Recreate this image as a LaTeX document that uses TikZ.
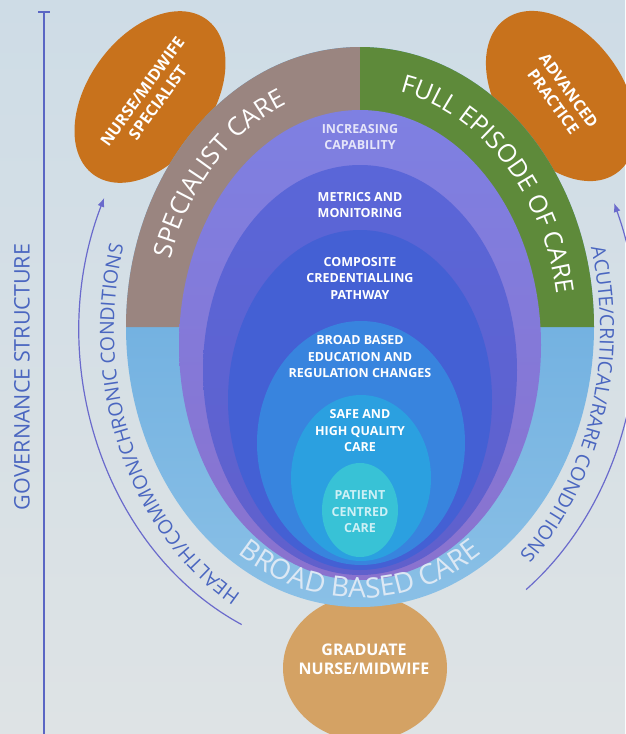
\documentclass[tikz,border=0pt]{standalone}
\usepackage{fontspec}
\setmainfont{Open Sans}
\usetikzlibrary{decorations.text,shapes.geometric,arrows.meta}
\definecolor{bgT}{HTML}{CEDCE6}
\definecolor{bgB}{HTML}{DEE3E5}
\definecolor{govc}{HTML}{5A66C4}
\definecolor{arcc}{HTML}{6A6ACC}
\definecolor{arctext}{HTML}{4A66C0}
\definecolor{outerT}{HTML}{5EA4DC}
\definecolor{outerB}{HTML}{8AC0E6}
\definecolor{brownc}{HTML}{9A8580}
\definecolor{greenc}{HTML}{5E8A3A}
\definecolor{purpleT}{HTML}{7E80E2}
\definecolor{purpleB}{HTML}{8A72CE}
\definecolor{ctwo}{HTML}{5A66D8}
\definecolor{ctwoB}{HTML}{6060CC}
\definecolor{cthree}{HTML}{4460D4}
\definecolor{cfour}{HTML}{3884DE}
\definecolor{cfive}{HTML}{2BA0E0}
\definecolor{csix}{HTML}{38C2D6}
\definecolor{orangec}{HTML}{C8721C}
\definecolor{tanc}{HTML}{D4A264}
\definecolor{bbtext}{HTML}{DCE8F4}
\begin{document}
\begin{tikzpicture}[x=1pt,y=-1pt,
  lab/.style={text=white, font=\bfseries\fontsize{12.5}{16.5}\selectfont, align=center},
  orangelab/.style={text=white, font=\bfseries\fontsize{16}{19}\selectfont, align=center},
  govline/.style={draw=govc, line width=1.6pt},
  arcline/.style={draw=arcc, line width=1.2pt},
  blob/.style={ellipse, inner sep=0pt}
]
\useasboundingbox (0,0) rectangle (625,734);
\path[top color=bgT, bottom color=bgB] (0,0) rectangle (625,734);

% governance structure
\coordinate (govtop) at (44,12);
\coordinate (govbot) at (44,734);
\coordinate (govtl) at (38,12);
\coordinate (govtr) at (50,12);
\draw[govline] (govtop) -- (govbot);
\draw[govline] (govtl) -- (govtr);
\node[rotate=90, text=arctext, font=\fontsize{21.5}{21.5}\selectfont] (gov) at (22,377) {GOVERNANCE STRUCTURE};

% side arcs
\coordinate (lstart) at ([shift={(115:280 and 325)}]360,330);
\draw[arcline, -{Latex[length=9pt,width=7pt]}] (lstart) arc[start angle=115, end angle=204, x radius=280, y radius=325];
\coordinate (rstart) at ([shift={(53:276 and 325)}]360,330);
\draw[arcline, -{Latex[length=9pt,width=7pt]}] (rstart) arc[start angle=53, end angle=-23, x radius=276, y radius=325];

\path[decorate, decoration={text along path, text align=center, text color=arctext,
  text={|\fontsize{19.5}{19.5}\selectfont|HEALTH/COMMON/CHRONIC CONDITIONS}}]
  ([shift={(110:246 and 302)}]360,330) arc[start angle=110, end angle=204, x radius=246, y radius=302];
\path[decorate, decoration={text along path, text align=center, text color=arctext,
  text={|\fontsize{19.5}{19.5}\selectfont|ACUTE/CRITICAL/RARE CONDITIONS}}]
  ([shift={(-28:240 and 300)}]360,330) arc[start angle=-28, end angle=62, x radius=240, y radius=300];

% orange blobs (behind the ring)
\node[blob, fill=tanc, minimum width=164pt, minimum height=146pt] (grad) at (365,668) {};
\node[blob, fill=orangec, minimum width=192pt, minimum height=124pt, rotate=54, orangelab] (nms) at (150,97) {NURSE/MIDWIFE\\SPECIALIST};
\node[blob, fill=orangec, minimum width=190pt, minimum height=124pt, rotate=-54, orangelab] (adv) at (561,96) {ADVANCED\\PRACTICE};
\node[orangelab] (gradtext) at (364,659) {GRADUATE\\NURSE/MIDWIFE};

% outer disk and ring
\path[top color=outerT, bottom color=outerB] (360,327) ellipse[x radius=234, y radius=280];
\fill[brownc] (360,327) -- ([shift={(180:234 and 280)}]360,327) arc[start angle=180, end angle=270, x radius=234, y radius=280] -- cycle;
\fill[greenc] (360,327) -- ([shift={(270:234 and 280)}]360,327) arc[start angle=270, end angle=360, x radius=234, y radius=280] -- cycle;

% nested ellipses
\path[top color=purpleT, bottom color=purpleB] (360,345) ellipse[x radius=181, y radius=235];
\path[top color=ctwo, bottom color=ctwoB] (360,370) ellipse[x radius=157, y radius=205];
\fill[cthree] (360,400) ellipse[x radius=132, y radius=170];
\fill[cfour] (361,443) ellipse[x radius=104, y radius=122];
\fill[cfive] (361,478) ellipse[x radius=70, y radius=83];
\fill[csix] (360,510) ellipse[x radius=38, y radius=47];

% ring texts
\path[decorate, decoration={text along path, text align=center, text color=white,
  text={|\fontsize{25.5}{25.5}\selectfont|SPECIALIST CARE}}]
  ([shift={(180:199 and 247)}]360,334) arc[start angle=180, end angle=270, x radius=199, y radius=247];
\path[decorate, decoration={text along path, text align=center, text color=white,
  text={|\fontsize{25}{25}\selectfont|FULL EPISODE OF CARE}}]
  ([shift={(270:199 and 247)}]360,334) arc[start angle=270, end angle=360, x radius=199, y radius=247];
\path[decorate, decoration={text along path, text align=center, text color=bbtext,
  text={|\fontsize{28}{28}\selectfont|BROAD BASED CARE}}]
  ([shift={(140:222 and 268)}]360,330) arc[start angle=140, end angle=40, x radius=222, y radius=268];

% inner labels
\node[lab, text=white!80!purpleT] (l1) at (360,137) {INCREASING\\CAPABILITY};
\node[lab] (l2) at (360,205) {METRICS AND\\MONITORING};
\node[lab] (l3) at (360,278) {COMPOSITE\\CREDENTIALLING\\PATHWAY};
\node[lab] (l4) at (360,357) {BROAD BASED\\EDUCATION AND\\REGULATION CHANGES};
\node[lab] (l5) at (360,431) {SAFE AND\\HIGH QUALITY\\CARE};
\node[lab, text=white!75!csix] (l6) at (360,512) {PATIENT\\CENTRED\\CARE};
\end{tikzpicture}
\end{document}
